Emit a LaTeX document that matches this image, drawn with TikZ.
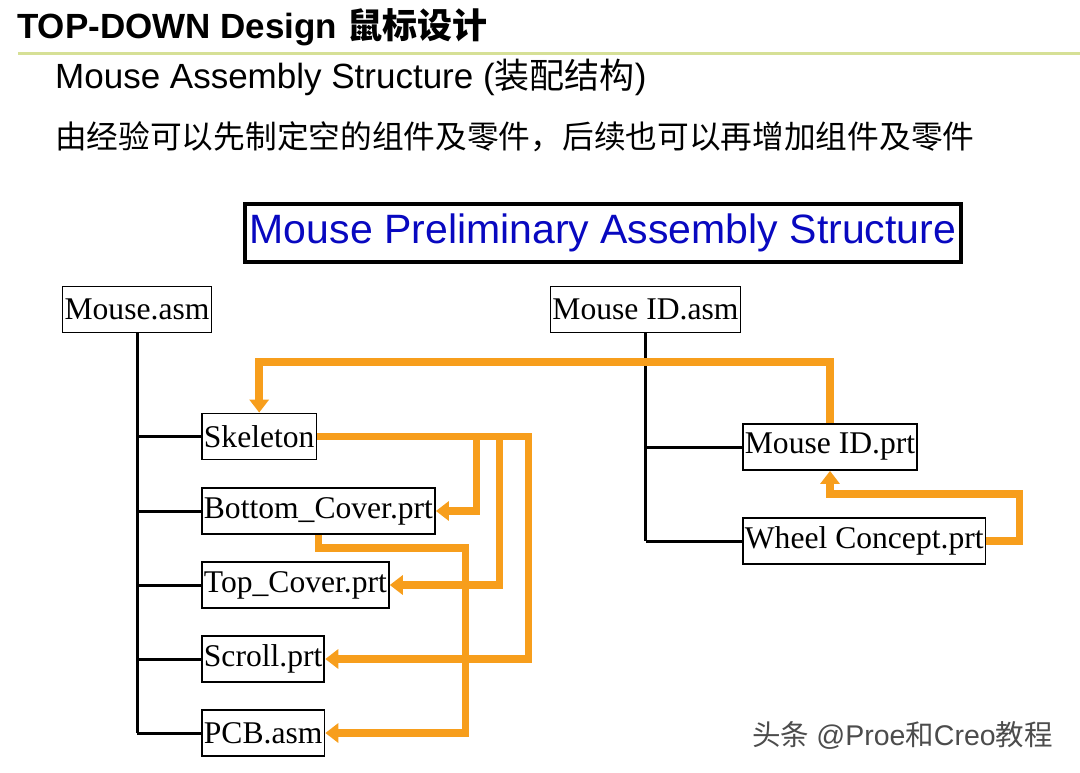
\documentclass[tikz,border=0pt]{standalone}
\usepackage{fontspec}
\setmainfont{Liberation Serif}
\newfontfamily\arial{Liberation Sans}
\newfontfamily\cjk{Noto Sans CJK SC}
\usetikzlibrary{positioning}
\usetikzlibrary{calc}
\usetikzlibrary{arrows.meta}
\definecolor{linkorange}{RGB}{247,158,28}
\definecolor{titleblue}{RGB}{8,8,192}
\definecolor{rulegreen}{RGB}{214,224,150}

\begin{document}
\begin{tikzpicture}[x=1pt, y=-1pt,
                    part/.style={draw, line width=1.8pt, inner xsep=2pt, inner ysep=0pt,
                                 minimum height=46pt, font=\fontsize{31.6}{34}\selectfont},
                    tree/.style={draw, line width=3pt},
                    link/.style={draw=linkorange, line width=7.5pt,
                                 -{Triangle[length=13pt,width=19pt]}}]
    \useasboundingbox (0,0) rectangle (1080,772);

    % header
    \node[anchor=base west, inner sep=0pt] (head) at (17,38)
        {\fontsize{35}{40}\selectfont\arial\bfseries TOP-DOWN Design {\cjk\bfseries 鼠标设计}};
    \draw[rulegreen, line width=3pt] (18,53) -- (1080,53);
    \node[anchor=base west, inner sep=0pt] (sub) at (55,88)
        {\fontsize{35}{39}\selectfont\arial Mouse Assembly Structure ({\cjk 装配结构})};
    \node[anchor=base west, inner sep=0pt] (note) at (55,148)
        {\fontsize{31.7}{36}\selectfont\cjk 由经验可以先制定空的组件及零件，后续也可以再增加组件及零件};
    \node[draw, line width=4pt, minimum width=716pt, minimum height=58pt, inner sep=0pt,
          text=titleblue, font=\fontsize{41}{46}\selectfont\arial] (title) at (603,233)
        {Mouse Preliminary Assembly Structure};

    % assemblies
    \node[part] (mouse) at (137,309.5) {Mouse.asm};
    \node[part] (idasm) at (645.5,309.5) {Mouse ID.asm};

    \node[part, anchor=west] (skel) at (201,436.5) {Skeleton};
    \node[part, anchor=west] (bottom) at (201,511) {Bottom\_Cover.prt};
    \node[part, anchor=west] (top) at (201,585) {Top\_Cover.prt};
    \node[part, anchor=west] (scroll) at (201,659) {Scroll.prt};
    \node[part, anchor=west] (pcb) at (201,733) {PCB.asm};

    \node[part, anchor=west] (idprt) at (742,447) {Mouse ID.prt};
    \node[part, anchor=west] (wheel) at (742,541) {Wheel Concept.prt};

    % tree lines
    \draw[tree] (mouse.south) -- (mouse.south |- pcb.west);
    \foreach \n in {skel, bottom, top, scroll, pcb}
        \draw[tree] (mouse.south |- \n.west) -- (\n.west);
    \draw[tree] (idasm.south) -- (idasm.south |- wheel.west);
    \foreach \n in {idprt, wheel}
        \draw[tree] (idasm.south |- \n.west) -- (\n.west);

    % references
    \draw[link] (idprt.north) -- ++(0,-61) -| (skel.north);
    \draw[link] (wheel.east) -- ++(33,0) -- ++(0,-47) -| (idprt.south);
    \draw[link] (skel.east) -- ++(211,0) |- (scroll.east);
    \draw[link] (skel.east) -- ++(182,0) |- (top.east);
    \draw[link] (skel.east) -- ++(159,0) |- (bottom.east);
    \draw[link] (bottom.south) -- ++(0,13) -- ++(147,0) |- (pcb.east);

    % watermark
    \node[anchor=base west, inner sep=0pt, text=black!70] (mark) at (752,745)
        {\fontsize{28.5}{31}\selectfont{\cjk 头条} \arial @Proe{\cjk 和}Creo{\cjk 教程}};
\end{tikzpicture}
\end{document}
